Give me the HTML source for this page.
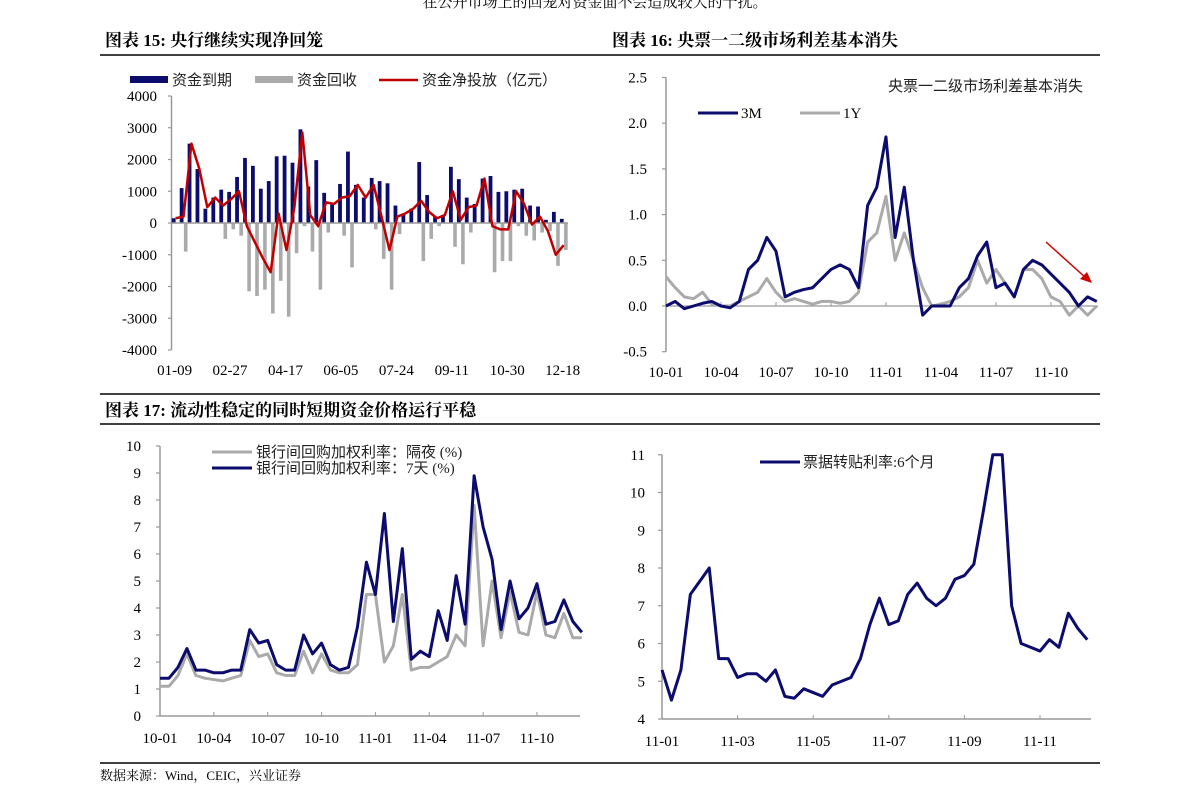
<!DOCTYPE html>
<html><head><meta charset="utf-8"><style>
html,body{margin:0;padding:0;background:#fff;}
svg{display:block;}
.t{font-family:"Liberation Serif","Noto Serif CJK SC",serif;font-size:15px;fill:#000;}
.h{font-family:"Liberation Serif","Noto Serif CJK SC",serif;font-size:17px;font-weight:bold;fill:#000;}
.c{font-family:"Liberation Serif","Noto Sans CJK SC",serif;font-size:15px;fill:#222;}
</style></head><body>
<svg id="s" width="1191" height="805" viewBox="0 0 1191 805" xmlns="http://www.w3.org/2000/svg">
<text class="t" x="595" y="7" text-anchor="middle">在公开市场上的回笼对资金面不会造成较大的干扰。</text>
<text class="h" x="105" y="46">图表 15:  央行继续实现净回笼</text>
<text class="h" x="612" y="46">图表 16:  央票一二级市场利差基本消失</text>
<line x1="100" y1="55" x2="1100" y2="55" stroke="#000" stroke-width="1.5"/>
<line x1="100" y1="394" x2="1100" y2="394" stroke="#000" stroke-width="1.5"/>
<text class="h" x="105" y="416">图表 17:  流动性稳定的同时短期资金价格运行平稳</text>
<line x1="100" y1="424" x2="1100" y2="424" stroke="#000" stroke-width="1.5"/>
<line x1="100" y1="763" x2="1100" y2="763" stroke="#000" stroke-width="1.5"/>
<text class="t" x="100" y="780" style="font-size:13px">数据来源：Wind，CEIC，兴业证券</text>
<g id="g1"></g>
<g id="g2"></g>
<g id="g3"></g>
<g id="g4"></g>
</svg>
<script>
// Chart 15 data
const c1Labels = ["01-09","02-27","04-17","06-05","07-24","09-11","10-30","12-18"];
const c1Ticks = [4000,3000,2000,1000,0,-1000,-2000,-3000,-4000];
const c1Expire = [150,1100,2500,1700,450,800,1050,980,1450,2050,1800,1080,1320,2100,2120,1900,2950,1150,1980,950,600,1230,2250,1200,800,1420,1320,1250,550,300,450,1920,880,200,250,1770,1380,800,600,1400,1480,980,1000,1050,1080,550,520,100,350,130];
const c1Recover = [0,-900,0,0,0,0,-500,-200,-400,-2150,-2300,-2100,-2850,-1820,-2950,-950,-100,-900,-2100,-300,0,-400,-1400,0,0,-200,-1130,-2100,-350,0,0,-1200,-500,-100,0,-750,-1300,-300,0,0,-1550,-1200,-1200,-100,-400,-550,-300,-250,-1350,-850];
const c1Net = [150,200,2500,1700,500,800,550,750,1000,-100,-600,-1100,-1550,300,-850,500,2850,250,-100,650,600,800,850,1200,800,1200,200,-850,200,300,450,700,350,150,250,1000,100,500,550,1400,-100,-200,-200,1000,600,-50,200,-250,-1000,-700];
// Chart 16 data (half-month steps from 10-01)
const c2Labels = ["10-01","10-04","10-07","10-10","11-01","11-04","11-07","11-10"];
const c2Ticks = [2.5,2.0,1.5,1.0,0.5,0.0,-0.5];
const c2M3 = [0,0.05,-0.03,0,0.03,0.05,0,-0.02,0.05,0.4,0.5,0.75,0.6,0.1,0.15,0.18,0.2,0.3,0.4,0.45,0.4,0.2,1.1,1.3,1.85,0.75,1.3,0.5,-0.1,0,0,0,0.2,0.3,0.55,0.7,0.2,0.25,0.1,0.4,0.5,0.45,0.35,0.25,0.15,0,0.1,0.05];
const c2Y1 = [0.32,0.2,0.1,0.08,0.15,0.02,0,0,0.05,0.1,0.15,0.3,0.15,0.05,0.08,0.05,0.02,0.05,0.05,0.03,0.05,0.15,0.7,0.8,1.2,0.5,0.8,0.5,0.2,0,0.02,0.05,0.1,0.2,0.5,0.25,0.4,0.25,0.1,0.4,0.4,0.3,0.1,0.05,-0.1,0,-0.1,0];
// Chart 17a data (half-month steps from 10-01)
const c3Labels = ["10-01","10-04","10-07","10-10","11-01","11-04","11-07","11-10"];
const c3Ticks = [10,9,8,7,6,5,4,3,2,1,0];
const c3D7 = [1.4,1.4,1.8,2.5,1.7,1.7,1.6,1.6,1.7,1.7,3.2,2.7,2.8,1.9,1.7,1.7,3.0,2.3,2.7,1.9,1.7,1.8,3.3,5.7,4.5,7.5,3.5,6.2,2.1,2.4,2.2,3.9,2.8,5.2,3.4,8.9,7.0,5.8,3.2,5.0,3.6,4.0,4.9,3.4,3.5,4.3,3.5,3.1];
const c3ON = [1.1,1.1,1.5,2.3,1.5,1.4,1.35,1.3,1.4,1.5,2.8,2.2,2.3,1.6,1.5,1.5,2.4,1.6,2.3,1.7,1.6,1.6,1.9,4.5,4.5,2.0,2.6,4.5,1.7,1.8,1.8,2.0,2.2,3.0,2.6,7.8,2.6,5.0,2.9,4.6,3.1,3.0,4.6,3.0,2.9,3.8,2.9,2.9];
// Chart 17b data (weekly steps from 11-01)
const c4Labels = ["11-01","11-03","11-05","11-07","11-09","11-11"];
const c4Ticks = [11,10,9,8,7,6,5,4];
const c4Rate = [5.3,4.5,5.3,7.3,7.65,8.0,5.6,5.6,5.1,5.2,5.2,5.0,5.3,4.6,4.55,4.8,4.7,4.6,4.9,5.0,5.1,5.6,6.5,7.2,6.5,6.6,7.3,7.6,7.2,7.0,7.2,7.7,7.8,8.1,9.5,11.0,11.0,7.0,6.0,5.9,5.8,6.1,5.9,6.8,6.4,6.1];

const NS="http://www.w3.org/2000/svg";
function mk(g,tag,attrs,txt){const e=document.createElementNS(NS,tag);for(const k in attrs)e.setAttribute(k,attrs[k]);if(txt!==undefined)e.textContent=txt;g.appendChild(e);return e;}
const AX="#999";

// ---------- Chart 15 ----------
(function(){
const g=document.getElementById('g1');
const y=v=>223-v*0.03175, xc=i=>173.6+i*7.92;
let e=mk(g,'line',{x1:171.5,y1:y(4000),x2:171.5,y2:y(-4000),stroke:AX,'stroke-width':1.5});


c1Ticks.forEach(v=>{
  mk(g,'line',{x1:168,y1:y(v),x2:171.5,y2:y(v),stroke:AX,'stroke-width':1.2});
  e=mk(g,'text',{class:'t',x:157,y:y(v)+5,'text-anchor':'end'},String(v));
  
  
});
c1Expire.forEach((v,i)=>{
  e=mk(g,'rect',{x:xc(i)-1.8,y:Math.min(y(v),y(0)),width:3.8,height:Math.abs(y(v)-y(0)),fill:'#0c0c6e'});
  
  
});
c1Recover.forEach((v,i)=>{
  e=mk(g,'rect',{x:xc(i)+2.4,y:Math.min(y(v),y(0)),width:3.6,height:Math.abs(y(v)-y(0)),fill:'#aaa'});
  
  
});
e=mk(g,'line',{x1:171.5,y1:y(0),x2:568,y2:y(0),stroke:AX,'stroke-width':1.5});


e=mk(g,'polyline',{points:c1Net.map((v,i)=>(xc(i)+2)+','+y(v)).join(' '),fill:'none',stroke:'#c00000','stroke-width':2.5,'stroke-linejoin':'round'});


c1Labels.forEach((l,j)=>{
  e=mk(g,'text',{class:'t',x:xc(j*7)+1,y:375,'text-anchor':'middle'},l);
  
  
});
// legend
mk(g,'rect',{x:130,y:76,width:38,height:7,fill:'#0c0c6e'});
e=mk(g,'text',{class:'c',x:172,y:85},'资金到期');
mk(g,'rect',{x:255,y:76,width:38,height:7,fill:'#aaa'});
e=mk(g,'text',{class:'c',x:297,y:85},'资金回收');
mk(g,'line',{x1:379,y1:80,x2:418,y2:80,stroke:'#c00000','stroke-width':2.5});
e=mk(g,'text',{class:'c',x:422,y:85},'资金净投放（亿元）');
})();

// ---------- Chart 16 ----------
(function(){
const g=document.getElementById('g2');
const y=v=>306-v*91.4, x=m=>666+18.33*m;
let e=mk(g,'line',{x1:666,y1:y(2.5),x2:666,y2:y(-0.5),stroke:AX,'stroke-width':1.5});


c2Ticks.forEach(v=>{
  mk(g,'line',{x1:662,y1:y(v),x2:666,y2:y(v),stroke:AX,'stroke-width':1.2});
  e=mk(g,'text',{class:'t',x:647,y:y(v)+5,'text-anchor':'end'},v.toFixed(1));
  
  
});
mk(g,'line',{x1:666,y1:y(0),x2:1098,y2:y(0),stroke:AX,'stroke-width':1.2});
c2Labels.forEach((l,j)=>{
  mk(g,'line',{x1:x(j*3),y1:y(0),x2:x(j*3),y2:y(0)-4,stroke:AX});
  e=mk(g,'text',{class:'t',x:x(j*3),y:377,'text-anchor':'middle'},l);
  
  
});
e=mk(g,'polyline',{points:c2Y1.map((v,i)=>x(i/2)+','+y(v)).join(' '),fill:'none',stroke:'#aaa','stroke-width':3,'stroke-linejoin':'round'});

e=mk(g,'polyline',{points:c2M3.map((v,i)=>x(i/2)+','+y(v)).join(' '),fill:'none',stroke:'#0c0c6e','stroke-width':3,'stroke-linejoin':'round'});

e=mk(g,'text',{class:'c',x:1083,y:91,'text-anchor':'end'},'央票一二级市场利差基本消失');

mk(g,'line',{x1:698,y1:113,x2:738,y2:113,stroke:'#0c0c6e','stroke-width':3});
e=mk(g,'text',{class:'t',x:741,y:118},'3M');
mk(g,'line',{x1:800,y1:113,x2:840,y2:113,stroke:'#aaa','stroke-width':3});
e=mk(g,'text',{class:'t',x:843,y:118},'1Y');
mk(g,'line',{x1:1046,y1:242,x2:1086,y2:278,stroke:'#d00000','stroke-width':1.5});
e=mk(g,'polygon',{points:'1092,283 1080,279 1087,272',fill:'#d00000'});

})();

// ---------- Chart 17a ----------
(function(){
const g=document.getElementById('g3');
const y=v=>716-27*v, x=m=>160+17.95*m;
let e=mk(g,'line',{x1:160,y1:y(10),x2:160,y2:y(0),stroke:AX,'stroke-width':1.5});

c3Ticks.forEach(v=>{
  mk(g,'line',{x1:156,y1:y(v),x2:160,y2:y(v),stroke:AX,'stroke-width':1.2});
  e=mk(g,'text',{class:'t',x:141,y:y(v)+5,'text-anchor':'end'},String(v));
  
});
e=mk(g,'line',{x1:160,y1:y(0),x2:580,y2:y(0),stroke:AX,'stroke-width':1.5});

c3Labels.forEach((l,j)=>{
  mk(g,'line',{x1:x(j*3),y1:y(0),x2:x(j*3),y2:y(0)-4,stroke:AX});
  e=mk(g,'text',{class:'t',x:x(j*3),y:743,'text-anchor':'middle'},l);
  
});
e=mk(g,'polyline',{points:c3ON.map((v,i)=>x(i/2)+','+y(v)).join(' '),fill:'none',stroke:'#aaa','stroke-width':3,'stroke-linejoin':'round'});

e=mk(g,'polyline',{points:c3D7.map((v,i)=>x(i/2)+','+y(v)).join(' '),fill:'none',stroke:'#0c0c6e','stroke-width':3,'stroke-linejoin':'round'});

mk(g,'line',{x1:212,y1:452,x2:252,y2:452,stroke:'#aaa','stroke-width':3});
e=mk(g,'text',{class:'c',x:256,y:457},'银行间回购加权利率：隔夜 (%)');
mk(g,'line',{x1:212,y1:468,x2:252,y2:468,stroke:'#0c0c6e','stroke-width':3});
e=mk(g,'text',{class:'c',x:256,y:473},'银行间回购加权利率：7天 (%)');
})();

// ---------- Chart 17b ----------
(function(){
const g=document.getElementById('g4');
const y=v=>719-37.75*(v-4), x=m=>662+37.8*m;
let e=mk(g,'line',{x1:662,y1:y(11),x2:662,y2:y(4),stroke:AX,'stroke-width':1.5});

c4Ticks.forEach(v=>{
  mk(g,'line',{x1:658,y1:y(v),x2:662,y2:y(v),stroke:AX,'stroke-width':1.2});
  e=mk(g,'text',{class:'t',x:645,y:y(v)+5,'text-anchor':'end'},String(v));
  
});
e=mk(g,'line',{x1:662,y1:y(4),x2:1091,y2:y(4),stroke:AX,'stroke-width':1.5});

c4Labels.forEach((l,j)=>{
  mk(g,'line',{x1:x(j*2),y1:y(4),x2:x(j*2),y2:y(4)-4,stroke:AX});
  e=mk(g,'text',{class:'t',x:x(j*2),y:746,'text-anchor':'middle'},l);
  
});
e=mk(g,'polyline',{points:c4Rate.map((v,i)=>x(i/4)+','+y(v)).join(' '),fill:'none',stroke:'#0c0c6e','stroke-width':3,'stroke-linejoin':'round'});

mk(g,'line',{x1:760,y1:462,x2:800,y2:462,stroke:'#0c0c6e','stroke-width':3});
e=mk(g,'text',{class:'c',x:803,y:467},'票据转贴利率:6个月');
})();
</script>
</body></html>
